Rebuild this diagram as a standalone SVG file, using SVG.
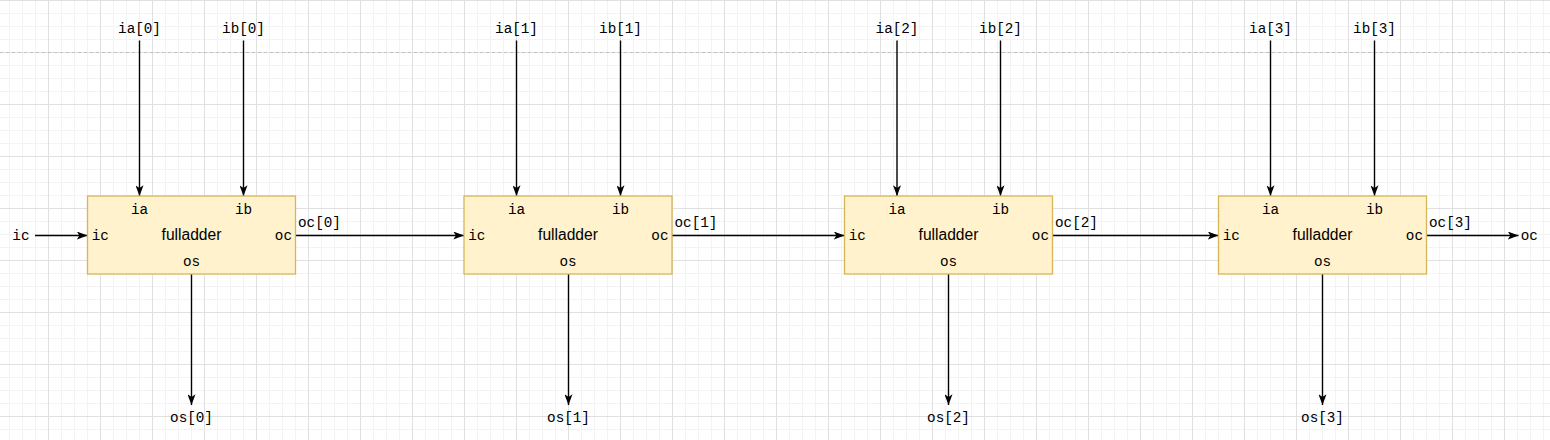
<svg xmlns="http://www.w3.org/2000/svg" width="1550" height="440" viewBox="0 0 1550 440">
<defs>
<pattern id="grid" patternUnits="userSpaceOnUse" x="48" y="0" width="52" height="52">
<path d="M13.5 0V52M26.5 0V52M39.5 0V52M0 13.5H52M0 26.5H52M0 39.5H52" stroke="#f3f3f3" stroke-width="1" fill="none"/>
<path d="M0.5 0V52M0 0.5H52" stroke="#e0e0e0" stroke-width="1" fill="none"/>
</pattern>
<marker id="arr" markerUnits="userSpaceOnUse" viewBox="0 0 11 8" refX="10.7" refY="4" markerWidth="11" markerHeight="8" orient="auto">
<path d="M0,0 L10.7,4 L0,8 L2.6,4 Z" fill="#000"/>
</marker>
</defs>
<style>
.box{fill:#fff2cc;stroke:#d6b656;stroke-width:1.3}
.mono{font-family:"Liberation Mono","Courier New",monospace;font-size:14.3px;fill:#000}
.sans{font-family:"Liberation Sans",Arial,sans-serif;font-size:15.6px;fill:#000}
.mid{text-anchor:middle}
.end{text-anchor:end}
.wire{stroke:#000;stroke-width:1.4;fill:none;marker-end:url(#arr)}
</style>
<rect width="1550" height="440" fill="#ffffff"/>
<rect width="1550" height="440" fill="url(#grid)"/>
<line x1="0" y1="52.5" x2="1550" y2="52.5" stroke="#c0c0c0" stroke-width="1" stroke-dasharray="3,3"/>

<g id="connectors">
<path class="wire" d="M35 235.5H87.5"/>
<path class="wire" d="M139.5 40.5V196"/>
<path class="wire" d="M243.5 40.5V196"/>
<path class="wire" d="M191.5 274V405"/>
<path class="wire" d="M295.5 235.5H464"/>
<path class="wire" d="M516.5 40.5V196"/>
<path class="wire" d="M620.5 40.5V196"/>
<path class="wire" d="M568.5 274V405"/>
<path class="wire" d="M672 235.5H844.5"/>
<path class="wire" d="M897 40.5V196"/>
<path class="wire" d="M1000.5 40.5V196"/>
<path class="wire" d="M948.5 274V405"/>
<path class="wire" d="M1052.5 235.5H1218.5"/>
<path class="wire" d="M1270.5 40.5V196"/>
<path class="wire" d="M1374.5 40.5V196"/>
<path class="wire" d="M1322.5 274V405"/>
<path class="wire" d="M1426.5 235.5H1518.5"/>
</g>

<g id="fa0">
<rect class="box" x="87.5" y="196" width="208" height="78"/>
<text class="mono mid" x="139.5" y="214">ia</text>
<text class="mono mid" x="243.5" y="214">ib</text>
<text class="mono" x="91.7" y="240">ic</text>
<text class="mono end" x="292" y="240">oc</text>
<text class="sans mid" x="191.5" y="239.5">fulladder</text>
<text class="mono mid" x="191.5" y="266">os</text>
</g>
<g id="fa1">
<rect class="box" x="464" y="196" width="208" height="78"/>
<text class="mono mid" x="516.5" y="214">ia</text>
<text class="mono mid" x="620.5" y="214">ib</text>
<text class="mono" x="468.2" y="240">ic</text>
<text class="mono end" x="668.5" y="240">oc</text>
<text class="sans mid" x="568" y="239.5">fulladder</text>
<text class="mono mid" x="568" y="266">os</text>
</g>
<g id="fa2">
<rect class="box" x="844.5" y="196" width="208" height="78"/>
<text class="mono mid" x="897" y="214">ia</text>
<text class="mono mid" x="1000.5" y="214">ib</text>
<text class="mono" x="848.7" y="240">ic</text>
<text class="mono end" x="1049" y="240">oc</text>
<text class="sans mid" x="948.5" y="239.5">fulladder</text>
<text class="mono mid" x="948.5" y="266">os</text>
</g>
<g id="fa3">
<rect class="box" x="1218.5" y="196" width="208" height="78"/>
<text class="mono mid" x="1270.5" y="214">ia</text>
<text class="mono mid" x="1374.5" y="214">ib</text>
<text class="mono" x="1222.7" y="240">ic</text>
<text class="mono end" x="1423" y="240">oc</text>
<text class="sans mid" x="1322.5" y="239.5">fulladder</text>
<text class="mono mid" x="1322.5" y="266">os</text>
</g>

<g id="labels">
<text class="mono" x="12.3" y="240">ic</text>
<text class="mono mid" x="139.5" y="32.5">ia[0]</text>
<text class="mono mid" x="243.5" y="32.5">ib[0]</text>
<text class="mono mid" x="191.5" y="422">os[0]</text>
<text class="mono" x="298" y="227">oc[0]</text>
<text class="mono mid" x="516.5" y="32.5">ia[1]</text>
<text class="mono mid" x="620.5" y="32.5">ib[1]</text>
<text class="mono mid" x="568.5" y="422">os[1]</text>
<text class="mono" x="674.5" y="227">oc[1]</text>
<text class="mono mid" x="897" y="32.5">ia[2]</text>
<text class="mono mid" x="1000.5" y="32.5">ib[2]</text>
<text class="mono mid" x="948.5" y="422">os[2]</text>
<text class="mono" x="1055" y="227">oc[2]</text>
<text class="mono mid" x="1270.5" y="32.5">ia[3]</text>
<text class="mono mid" x="1374.5" y="32.5">ib[3]</text>
<text class="mono mid" x="1322.5" y="422">os[3]</text>
<text class="mono" x="1429" y="227">oc[3]</text>
<text class="mono" x="1520.7" y="240">oc</text>
</g>
</svg>
